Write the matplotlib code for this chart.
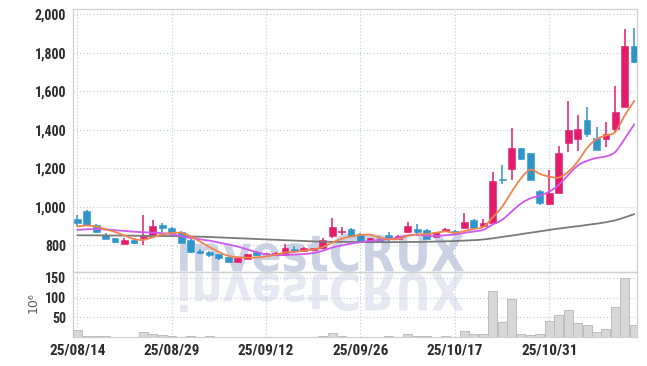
import numpy as np
import matplotlib
matplotlib.use("Agg")
import matplotlib.pyplot as plt
from matplotlib import font_manager
from matplotlib.textpath import TextPath
from matplotlib.font_manager import FontProperties
from matplotlib.patches import PathPatch
from matplotlib.transforms import Affine2D, IdentityTransform
from matplotlib.ticker import FuncFormatter

# ---------------- data ----------------
date_labels = ["25/08/14", "25/08/29", "25/09/12", "25/09/26", "25/10/17", "25/10/31"]
date_pos = [0, 10, 20, 30, 40, 50]

opens = [937, 978, 905, 855, 838, 808, 827, 840, 848, 907,
         890, 868, 827, 772, 767, 755, 738, 713, 730, 767,
         752, 756, 750, 781, 772, 776, 784, 850, 868, 885,
         859, 819, 831, 854, 833, 868, 885, 880, 845, 874,
         874, 891, 932, 900, 917, 1145, 1195, 1304, 1278, 1082,
         1013, 1073, 1333, 1351, 1451, 1360, 1351, 1406, 1521, 1836]
highs = [958, 982, 908, 862, 840, 840, 829, 957, 932, 917,
         893, 872, 830, 779, 769, 757, 740, 734, 757, 772,
         760, 764, 805, 796, 792, 787, 836, 940, 897, 888,
         862, 840, 846, 868, 852, 920, 909, 882, 870, 891,
         880, 966, 935, 935, 1183, 1216, 1408, 1307, 1280, 1085,
         1192, 1318, 1550, 1477, 1521, 1417, 1443, 1628, 1923, 1928]
lows = [902, 905, 864, 831, 812, 806, 807, 802, 846, 871,
        862, 812, 758, 755, 738, 723, 711, 711, 728, 745,
        750, 754, 748, 758, 770, 774, 782, 836, 854, 848,
        816, 817, 812, 819, 830, 866, 850, 831, 843, 868,
        860, 889, 889, 898, 915, 1119, 1140, 1245, 1138, 1010,
        1011, 1071, 1287, 1292, 1365, 1294, 1313, 1382, 1519, 1750]
closes = [916, 907, 871, 834, 817, 828, 812, 850, 902, 890,
          864, 814, 767, 762, 750, 732, 713, 732, 755, 750,
          758, 762, 784, 770, 788, 784, 827, 897, 874, 850,
          819, 836, 819, 836, 850, 902, 871, 833, 868, 885,
          862, 921, 891, 916, 1134, 1139, 1304, 1249, 1140, 1021,
          1070, 1278, 1400, 1405, 1379, 1296, 1377, 1492, 1836, 1753]
volume = [18, 2, 1.5, 1.5, 0.3, 0.3, 0.3, 12, 7, 4.5,
          1.5, 0.3, 1.5, 0.3, 1.5, 0.3, 0.3, 0.3, 0.3, 0.3,
          0.3, 0.3, 0.3, 0.3, 0.3, 0.3, 2, 9, 2, 1,
          0.3, 0.3, 0.3, 1.5, 0.3, 6.5, 2, 2, 0.3, 2,
          0.3, 15, 7.5, 7.5, 117, 38, 96, 6.5, 4.5, 7.5,
          40, 55, 68, 35, 30, 12, 20, 75, 149, 30]
ma5 = [898, 903, 897, 884, 869, 851, 832, 828, 842, 856,
       864, 864, 847, 819, 791, 765, 745, 738, 736, 736,
       742, 751, 762, 765, 772, 778, 791, 813, 834, 846,
       853, 855, 840, 832, 832, 849, 856, 858, 865, 872,
       864, 874, 885, 895, 945, 1000, 1077, 1148, 1193, 1171,
       1157, 1152, 1182, 1235, 1306, 1352, 1371, 1390, 1476, 1551]
ma10 = [880, 883, 884, 882, 878, 874, 870, 868, 866, 863,
        858, 848, 838, 831, 824, 814, 804, 793, 778, 764,
        753, 748, 750, 751, 754, 760, 771, 788, 799, 809,
        816, 823, 826, 833, 839, 851, 855, 849, 848, 852,
        856, 865, 872, 880, 908, 932, 975, 1017, 1044, 1058,
        1079, 1114, 1165, 1214, 1239, 1254, 1262, 1286, 1355, 1429]
ma_long = [852, 852, 852, 851, 851, 850, 850, 849, 849, 848,
           848, 847, 846, 845, 843, 841, 839, 837, 835, 832,
           830, 828, 826, 824, 822, 820, 819, 818, 818, 817,
           817, 816, 816, 816, 816, 817, 817, 818, 819, 820,
           822, 824, 826, 830, 836, 843, 850, 858, 865, 872,
           880, 887, 893, 899, 906, 912, 920, 930, 945, 962]

# ---------------- fonts ----------------
available = {f.name for f in font_manager.fontManager.ttflist}
narrow = None
for cand in ["Liberation Sans Narrow", "DejaVu Sans Condensed", "Roboto Condensed",
             "Open Sans Condensed", "Noto Sans Condensed", "Arial Narrow"]:
    if cand in available:
        narrow = cand
        break
if narrow is None:
    for nm in sorted(available):
        if "Narrow" in nm or "Condensed" in nm:
            narrow = nm
            break
if narrow is not None:
    TICKFONT = [narrow, "DejaVu Sans"]
    Y_SIZE, X_SIZE, WEIGHT = 10, 11, "bold"
else:
    TICKFONT = ["Roboto", "DejaVu Sans"]
    Y_SIZE, X_SIZE, WEIGHT = 9, 9.5, "medium"

# ---------------- style ----------------
UP = "#e31c6b"
DOWN = "#2f95c9"
GRID = "#c3c8da"
SPINE = "#cfcfcf"

W, H = 647, 366
fig = plt.figure(figsize=(W / 100, H / 100), dpi=100)
fig.patch.set_facecolor("white")

L, R = 73.3, 637.3
T, MID, B = 9.3, 272.0, 337.0
ax = fig.add_axes([L / W, 1 - MID / H, (R - L) / W, (MID - T) / H])
axv = fig.add_axes([L / W, 1 - B / H, (R - L) / W, (B - MID) / H], sharex=ax)
for a in (ax, axv):
    a.set_facecolor("none")
    for s in a.spines.values():
        s.set_color(SPINE)
        s.set_linewidth(0.9)
    a.grid(True, color=GRID, linestyle=(0, (1, 2)), linewidth=0.8)
    a.set_axisbelow(True)
    a.tick_params(length=0, colors="#2b2b2b")

# watermark + reflection
fp = FontProperties(family="DejaVu Sans", weight="bold")
tp = TextPath((0, 0), "investCRUX", size=100, prop=fp)
ext = tp.get_extents()
x0, x1 = 180, 464
ytop, ybase = 233, 272
sx = (x1 - x0) / ext.width
sy = (ybase - ytop) / ext.height
tr = Affine2D().translate(-ext.x0, -ext.y0).scale(sx, sy).translate(x0, H - ybase)
fig.add_artist(PathPatch(tr.transform_path(tp), transform=IdentityTransform(),
                         fc="#cbd2e4", ec="none", zorder=-2))
tr2 = Affine2D().translate(-ext.x0, -ext.y0).scale(sx, -sy).translate(x0, H - ybase - 1)
fig.add_artist(PathPatch(tr2.transform_path(tp), transform=IdentityTransform(),
                         fc="#e6e9f2", ec="none", zorder=-2))

# candles
x = np.arange(len(closes))
o = np.array(opens, float); c = np.array(closes, float)
hi = np.array(highs, float); lo = np.array(lows, float)
cols = [UP if cc >= oo else DOWN for oo, cc in zip(o, c)]
ax.vlines(x, lo, hi, colors=cols, linewidth=1.1, zorder=2)
body_b = np.minimum(o, c)
body_h = np.maximum(np.abs(c - o), 3)
ax.bar(x, body_h, bottom=body_b, width=0.72, color=cols, edgecolor=cols,
       linewidth=0.4, zorder=3)


def smooth(xs, ys, n=8):
    P = np.column_stack([np.asarray(xs, float), np.asarray(ys, float)])
    P = np.vstack([P[0], P, P[-1]])
    t = np.linspace(0, 1, n, endpoint=False)[:, None]
    out = []
    for i in range(1, len(P) - 2):
        p0, p1, p2, p3 = P[i - 1], P[i], P[i + 1], P[i + 2]
        out.append(0.5 * (2 * p1 + (-p0 + p2) * t + (2 * p0 - 5 * p1 + 4 * p2 - p3) * t ** 2
                          + (-p0 + 3 * p1 - 3 * p2 + p3) * t ** 3))
    out.append(P[-2][None])
    a = np.vstack(out)
    return a[:, 0], a[:, 1]


for ys, col in ((ma_long, "#7a7a7a"), (ma10, "#cf58ef"), (ma5, "#f0844c")):
    sx_, sy_ = smooth(x, ys)
    ax.plot(sx_, sy_, color=col, linewidth=1.3, zorder=4, solid_capstyle="round")

ax.set_xlim(-0.42, 59.32)
ax.set_ylim(661, 2027)
ax.set_yticks([800, 1000, 1200, 1400, 1600, 1800, 2000])
ax.yaxis.set_major_formatter(FuncFormatter(lambda v, p: f"{int(v):,}"))
ax.set_xticks(date_pos)
ax.tick_params(axis="x", labelbottom=False)

# volume
axv.bar(x, volume, width=0.95, color="#d7d7d7", edgecolor="#bdbdbd",
        linewidth=0.7, zorder=3)
axv.set_ylim(0, 164.7)
axv.set_yticks([50, 100, 150])
axv.set_xticks(date_pos)
axv.set_xticklabels(date_labels)

for lab in ax.get_yticklabels() + axv.get_yticklabels() + axv.get_xticklabels():
    lab.set_fontfamily(TICKFONT)
    lab.set_fontweight(WEIGHT)
ax.tick_params(axis="y", labelsize=Y_SIZE, pad=5)
axv.tick_params(axis="y", labelsize=Y_SIZE, pad=5)
axv.tick_params(axis="x", labelsize=X_SIZE, pad=5)

fig.text(33 / W, 1 - 303 / H, "10\u2076", rotation=90, ha="center", va="center",
         fontsize=9, color="#555555", family="DejaVu Sans")

fig.savefig("out.png", dpi=100)
